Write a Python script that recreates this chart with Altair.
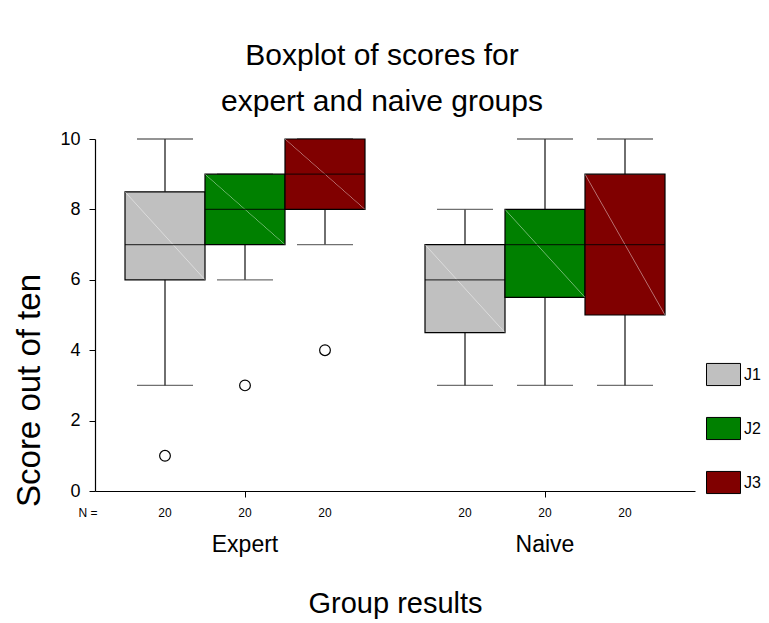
import altair as alt
import pandas as pd

# ---- data ----
groups = ["Expert", "Expert", "Expert", "Naive", "Naive", "Naive"]
judges = ["J1", "J2", "J3", "J1", "J2", "J3"]
lower_whisker = [3, 6, 7, 3, 3, 3]
q1 = [6, 7, 8, 4.5, 5.5, 5]
median = [7, 8, 9, 6, 7, 7]
q3 = [8.5, 9, 10, 7, 8, 9]
upper_whisker = [10, 9, 10, 8, 10, 10]
counts = [20, 20, 20, 20, 20, 20]

outlier_groups = ["Expert", "Expert", "Expert"]
outlier_judges = ["J1", "J2", "J3"]
outlier_values = [1, 3, 4]

judge_names = ["J1", "J2", "J3"]
judge_colors = ["#C0C0C0", "#008000", "#800000"]
y_ticks = [0, 2, 4, 6, 8, 10]

FONT = "Liberation Sans"
W, H = 600, 352

stats = pd.DataFrame({
    "group": groups, "judge": judges, "low": lower_whisker, "q1": q1,
    "median": median, "q3": q3, "high": upper_whisker, "n": counts,
})
outliers = pd.DataFrame({"group": outlier_groups, "judge": outlier_judges,
                         "value": outlier_values})

x_enc = alt.X(
    "group:N",
    scale=alt.Scale(paddingInner=0.2, paddingOuter=0.1),
    axis=alt.Axis(
        title="Group results", titleFontSize=29, titleFontWeight="normal",
        titlePadding=33, titleColor="black",
        labelAngle=0, labelFontSize=23, labelPadding=36, labelColor="black",
        tickSize=6, tickColor="black", domainColor="black", domainWidth=1.2,
    ),
)
xo_enc = alt.XOffset("judge:N", scale=alt.Scale(domain=judge_names,
                                                 paddingInner=0, paddingOuter=0))
y_scale = alt.Scale(domain=[0, 10], nice=False, zero=True)
y_axis = alt.Axis(
    values=y_ticks, title="Score out of ten", titleFontSize=33,
    titleFontWeight="normal", titleColor="black",
    titleAngle=270, titleAlign="center", titleBaseline="alphabetic",
    titleX=-56, titleY=251,
    labelFontSize=18, labelPadding=9, labelColor="black",
    tickSize=6, tickColor="black", domainColor="black", domainWidth=1.2,
    grid=False,
)

base = alt.Chart(stats)

whisker_low = base.mark_rule(color="#222", strokeWidth=1.3).encode(
    x=x_enc, xOffset=xo_enc,
    y=alt.Y("low:Q", scale=y_scale, axis=y_axis), y2="q1:Q",
)
whisker_high = base.mark_rule(color="#222", strokeWidth=1.3).encode(
    x=x_enc, xOffset=xo_enc, y=alt.Y("q3:Q"), y2="high:Q",
)
cap_low = base.mark_tick(size=56, thickness=1.3, color="#333",
                         orient="horizontal").encode(
    x=x_enc, xOffset=xo_enc, y=alt.Y("low:Q"),
)
cap_high = base.mark_tick(size=56, thickness=1.3, color="#333",
                          orient="horizontal").encode(
    x=x_enc, xOffset=xo_enc, y=alt.Y("high:Q"),
)

boxes = base.mark_bar(stroke="black", strokeWidth=1.2).encode(
    x=x_enc, xOffset=xo_enc,
    y=alt.Y("q1:Q"), y2="q3:Q",
    color=alt.Color(
        "judge:N",
        scale=alt.Scale(domain=judge_names, range=judge_colors),
        legend=alt.Legend(
            title=None, orient="none", legendX=611, legendY=218,
            direction="vertical",
            symbolType="M-1,-0.65L1,-0.65L1,0.65L-1,0.65Z",
            symbolSize=1156, symbolStrokeColor="black",
            symbolStrokeWidth=1, symbolOpacity=1,
            labelFontSize=16, labelColor="black", labelOffset=3,
            rowPadding=23,
        ),
    ),
)

diag_gradient = {
    "gradient": "linear", "x1": 0, "y1": 1, "x2": 1, "y2": 0,
    "stops": [
        {"offset": 0, "color": "rgba(255,255,255,0)"},
        {"offset": 0.494, "color": "rgba(255,255,255,0)"},
        {"offset": 0.5, "color": "rgba(255,255,255,0.45)"},
        {"offset": 0.506, "color": "rgba(255,255,255,0)"},
        {"offset": 1, "color": "rgba(255,255,255,0)"},
    ],
}
diagonals = base.mark_bar(strokeWidth=0).encode(
    x=x_enc, xOffset=xo_enc, y=alt.Y("q1:Q"), y2="q3:Q",
    fill=alt.value(diag_gradient),
)

medians = base.mark_tick(size=80, thickness=1.3, color="black",
                         orient="horizontal").encode(
    x=x_enc, xOffset=xo_enc, y=alt.Y("median:Q"),
)

outlier_pts = alt.Chart(outliers).mark_point(
    shape="circle", filled=True, fill="white", stroke="black",
    strokeWidth=1.2, size=115, opacity=1,
).encode(
    x=x_enc, xOffset=xo_enc, y=alt.Y("value:Q"),
)

n_text = base.mark_text(fontSize=12, color="black", baseline="middle").encode(
    x=x_enc, xOffset=xo_enc, y=alt.value(H + 22), text="n:Q",
)
n_label = alt.Chart(pd.DataFrame({"t": ["N ="]})).mark_text(
    fontSize=12, color="black", baseline="middle", align="center",
).encode(x=alt.value(-7), y=alt.value(H + 22), text="t:N")

chart = alt.layer(
    whisker_low, whisker_high, cap_low, cap_high, boxes, diagonals,
    medians, outlier_pts, n_text, n_label,
).properties(
    width=W, height=H,
    title=alt.TitleParams(
        ["Boxplot of scores for", "expert and naive groups"],
        fontSize=30, fontWeight="normal", lineHeight=46, font=FONT,
        anchor="middle", offset=13, dx=-13, color="black",
    ),
    autosize=alt.AutoSizeParams(type="none"),
    padding={"left": 87, "top": 131, "right": 66, "bottom": 130},
).configure(font=FONT).configure_view(stroke=None)

chart.save("out.html", embed_options={"renderer": "svg", "actions": False})
